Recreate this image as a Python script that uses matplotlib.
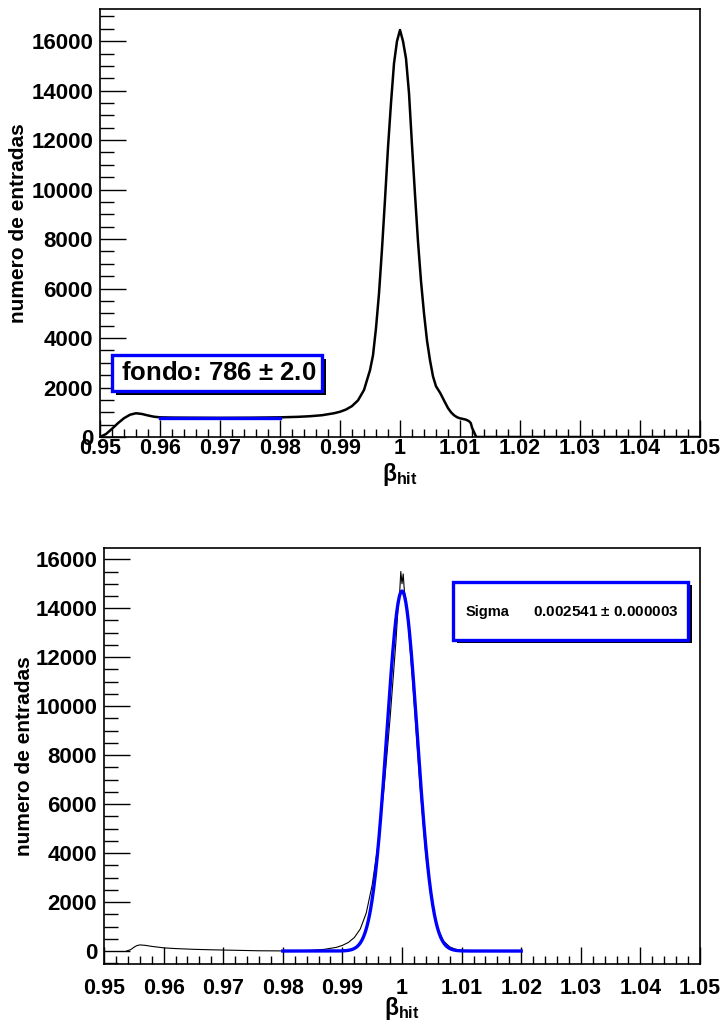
import numpy as np
import matplotlib
matplotlib.use("Agg")
import matplotlib.pyplot as plt
from matplotlib.patches import Rectangle
from matplotlib.ticker import MultipleLocator

plt.rcParams["font.family"] = ["Liberation Sans", "DejaVu Sans"]
plt.rcParams["font.weight"] = "bold"
plt.rcParams["mathtext.fontset"] = "custom"
plt.rcParams["mathtext.rm"] = "Liberation Sans"
plt.rcParams["mathtext.bf"] = "Liberation Sans:bold"
plt.rcParams["mathtext.it"] = "Liberation Sans:bold"

# beta_hit distribution, full sample
beta_all = [0.950, 0.951, 0.952, 0.953, 0.954, 0.955, 0.956, 0.957, 0.958, 0.959,
            0.960, 0.962, 0.965, 0.970, 0.975, 0.980, 0.983, 0.985, 0.987, 0.989,
            0.990, 0.991, 0.992, 0.993, 0.994, 0.995, 0.9955, 0.996, 0.9965, 0.997,
            0.9975, 0.998, 0.9985, 0.999, 0.9995, 1.000, 1.0005, 1.001, 1.0015, 1.002,
            1.0025, 1.003, 1.0035, 1.004, 1.0045, 1.005, 1.0055, 1.006, 1.0067, 1.0075,
            1.008, 1.0085, 1.009, 1.0095, 1.010, 1.0105, 1.011, 1.0115, 1.0118, 1.012,
            1.0127, 1.050]
counts_all = [0, 120, 330, 560, 760, 900, 960, 930, 870, 820,
              795, 785, 780, 775, 780, 795, 815, 840, 880, 960,
              1020, 1110, 1250, 1480, 1900, 2700, 3300, 4400, 5800, 7600,
              9600, 11700, 13500, 15100, 16000, 16450, 16000, 15300, 13900, 11800,
              9800, 7900, 6300, 5000, 3900, 3100, 2450, 2050, 1780, 1400,
              1170, 1000, 880, 800, 755, 730, 700, 640, 560, 380,
              0, 0]

# background level fitted between 0.96 and 0.98
fondo, fondo_err = 786, 2.0
fondo_range = [0.96, 0.98]

# beta_hit distribution after background subtraction
beta_sub = [0.9538, 0.9545, 0.955, 0.9555, 0.956, 0.957, 0.958, 0.959, 0.960, 0.962,
            0.965, 0.968, 0.970, 0.973, 0.976, 0.980, 0.983, 0.985, 0.987, 0.989,
            0.990, 0.991, 0.992, 0.993, 0.994, 0.995, 0.996, 0.997, 0.998, 0.999,
            0.9993, 0.9996, 0.9998, 1.000, 1.0002, 1.0004, 1.0007, 1.001, 1.002, 1.003,
            1.004, 1.005, 1.006, 1.007, 1.008, 1.009, 1.010, 1.011, 1.013]
counts_sub = [0, 60, 150, 220, 250, 230, 190, 160, 130, 100,
              70, 50, 40, 25, 10, 5, 10, 30, 70, 150,
              230, 350, 550, 900, 1550, 2700, 4400, 6700, 9500, 12700,
              13900, 14600, 15500, 15000, 15400, 14700, 14300, 13500, 10300, 6800,
              3900, 2000, 900, 400, 170, 70, 30, 10, 0]

# gaussian fit
g_const, g_mean, g_sigma, g_sigma_err = 14700, 1.0, 0.002541, 0.000003
fit_range = [0.98, 1.02]

fig = plt.figure(figsize=(7.2, 10.22), dpi=100)
ax1 = fig.add_axes([100 / 720, 1 - 437 / 1022, 600 / 720, 428 / 1022])
ax2 = fig.add_axes([104 / 720, 1 - 964 / 1022, 596 / 720, 416 / 1022])


def root_style(ax, ylim, xpad):
    ax.set_xlim(0.95, 1.05)
    ax.set_ylim(*ylim)
    ax.xaxis.set_minor_locator(MultipleLocator(0.002))
    ax.yaxis.set_major_locator(MultipleLocator(2000))
    ax.yaxis.set_minor_locator(MultipleLocator(500))
    ax.set_xticks(np.round(np.arange(0.95, 1.0501, 0.01), 2))
    ax.set_xticklabels(["0.95", "0.96", "0.97", "0.98", "0.99", "1",
                        "1.01", "1.02", "1.03", "1.04", "1.05"])
    ax.tick_params(axis="x", which="major", direction="in", length=12, width=1,
                   labelsize=15.5, pad=xpad)
    ax.tick_params(axis="x", which="minor", direction="in", length=6, width=1)
    ax.tick_params(axis="y", which="major", direction="in", length=19, width=1,
                   labelsize=16, pad=5)
    ax.tick_params(axis="y", which="minor", direction="in", length=10, width=1)
    for sp in ax.spines.values():
        sp.set_linewidth(1.2)
    ax.set_ylabel("numero de entradas", fontsize=15, fontweight="bold")
    ax.set_xlabel(r"$\mathrm{β}_{\mathbf{hit}}$", fontsize=16.5, labelpad=0)


def shadow_box(ax, x0, y0, x1, y1, dx, dy):
    ax.add_patch(Rectangle((x0 + dx, y0 - dy), x1 - x0, y1 - y0, transform=ax.transAxes,
                           facecolor="black", edgecolor="none", zorder=5))
    ax.add_patch(Rectangle((x0, y0), x1 - x0, y1 - y0, transform=ax.transAxes,
                           facecolor="white", edgecolor="#0000ff", linewidth=2.4, zorder=6))


# top panel
root_style(ax1, (0, 17300), 1)
ax1.plot(beta_all, counts_all, color="black", linewidth=1.8)
ax1.plot(fondo_range, [fondo, fondo], color="#0000ff", linewidth=2.4)
shadow_box(ax1, 0.02, 0.1075, 0.37, 0.1916, 0.006, 0.009)
ax1.text(0.197, 0.149, "fondo: %d $\\pm$ %.1f" % (fondo, fondo_err), transform=ax1.transAxes,
         ha="center", va="center", fontsize=18.5, fontweight="bold", zorder=7)
ax1.yaxis.set_label_coords(-0.12, 0.5)
ax1.xaxis.set_label_coords(0.5, -0.055)

# bottom panel
root_style(ax2, (-530, 16460), 10)
ax2.plot(beta_sub, counts_sub, color="black", linewidth=0.8)
xf = np.linspace(fit_range[0], fit_range[1], 400)
ax2.plot(xf, g_const * np.exp(-0.5 * ((xf - g_mean) / g_sigma) ** 2),
         color="#0000ff", linewidth=2.4)
shadow_box(ax2, 0.586, 0.779, 0.98, 0.918, 0.006, 0.008)
ax2.text(0.607, 0.846, "Sigma", transform=ax2.transAxes, ha="left", va="center",
         fontsize=10.5, fontweight="bold", zorder=7)
ax2.text(0.72, 0.846, "%.6f $\\pm$ %.6f" % (g_sigma, g_sigma_err), transform=ax2.transAxes,
         ha="left", va="center", fontsize=11, fontweight="bold", zorder=7)
ax2.yaxis.set_label_coords(-0.118, 0.5)
ax2.xaxis.set_label_coords(0.5, -0.074)

fig.savefig("out.png", dpi=100)
